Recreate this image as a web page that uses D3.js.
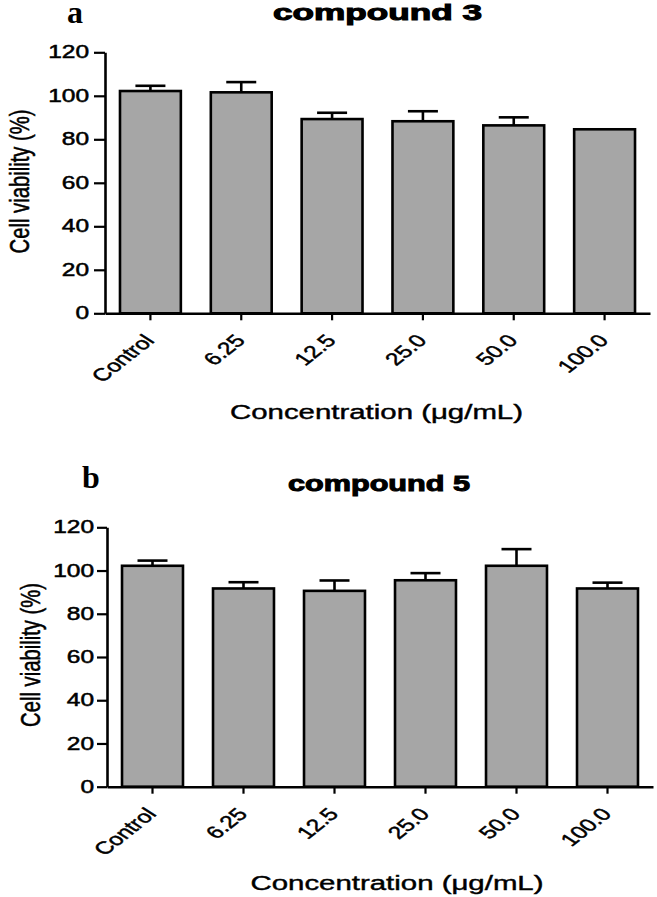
<!DOCTYPE html>
<html>
<head>
<meta charset="utf-8">
<script src="https://cdn.jsdelivr.net/npm/d3@7/dist/d3.min.js"></script>
<style>
  html, body { margin: 0; padding: 0; background: #ffffff; }
  svg { display: block; }
</style>
</head>
<body>
<svg id="chart" width="657" height="897"></svg>
<script>
// ---- data ----
const categories = ["Control", "6.25", "12.5", "25.0", "50.0", "100.0"];
const meansA = [102.2, 101.6, 89.3, 88.3, 86.4, 84.6];
const sdA    = [2.4, 4.7, 2.9, 4.6, 3.7, 0];
const meansB = [102.2, 91.7, 90.6, 95.5, 102.2, 91.7];
const sdB    = [2.4, 2.9, 4.8, 3.3, 7.7, 2.7];
const yTicks = [0, 20, 40, 60, 80, 100, 120];
const titles = ["compound 3", "compound 5"];
const panelLetters = ["a", "b"];
const yLabel = "Cell viability (%)";
const xLabel = "Concentration (\u03bcg/mL)";

// ---- layout ----
const panels = [
  { means: meansA, sd: sdA, title: titles[0], letter: panelLetters[0],
    left: 105, right: 650, top: 52.3, bottom: 313.3,
    titleX: 377.5, titleY: 20, titleLen: 209,
    letterX: 67, letterY: 23,
    yLabX: 29, yLabY: 181.5,
    xLabX: 376.5, xLabY: 419,
    yTickSize: 11, yTickPad: 5 },
  { means: meansB, sd: sdB, title: titles[1], letter: panelLetters[1],
    left: 107, right: 653, top: 527.3, bottom: 786.7,
    titleX: 379, titleY: 490.7, titleLen: 182,
    letterX: 82, letterY: 488,
    yLabX: 40, yLabY: 655,
    xLabX: 397, xLabY: 890,
    yTickSize: 10, yTickPad: 3 }
];

const SX = 1.4;            // horizontal stretch of text
const FONT = "'Liberation Sans', Arial, Helvetica, sans-serif";
const svg = d3.select("#chart");

panels.forEach(p => {
  const g = svg.append("g");
  const x = d3.scaleBand().domain(categories).range([p.left, p.right])
    .paddingInner(0.33).paddingOuter(0.165);
  const y = d3.scaleLinear().domain([0, 120]).range([p.bottom, p.top]);

  // bars
  g.selectAll("rect.bar").data(p.means).join("rect")
    .attr("class", "bar")
    .attr("x", (d, i) => x(categories[i]))
    .attr("y", d => y(d))
    .attr("width", x.bandwidth())
    .attr("height", d => y(0) - y(d))
    .attr("fill", "#a6a6a6")
    .attr("stroke", "#000")
    .attr("stroke-width", 2.6);

  // error bars
  const capW = 30;
  const err = g.selectAll("g.err").data(p.means.map((m, i) => ({ m, s: p.sd[i], c: categories[i] })))
    .join("g").attr("class", "err").filter(d => d.s > 0);
  err.append("line")
    .attr("x1", d => x(d.c) + x.bandwidth() / 2)
    .attr("x2", d => x(d.c) + x.bandwidth() / 2)
    .attr("y1", d => y(d.m))
    .attr("y2", d => y(d.m + d.s))
    .attr("stroke", "#000").attr("stroke-width", 2.6);
  err.append("line")
    .attr("x1", d => x(d.c) + x.bandwidth() / 2 - capW / 2)
    .attr("x2", d => x(d.c) + x.bandwidth() / 2 + capW / 2)
    .attr("y1", d => y(d.m + d.s))
    .attr("y2", d => y(d.m + d.s))
    .attr("stroke", "#000").attr("stroke-width", 2.6);

  // y axis
  const ya = g.append("g").attr("transform", `translate(${p.left},0)`)
    .call(d3.axisLeft(y).tickValues(yTicks).tickFormat(d3.format("d"))
      .tickSize(p.yTickSize).tickSizeOuter(0).tickPadding(p.yTickPad));
  ya.select(".domain").attr("stroke-width", 2.6).attr("stroke", "#000");
  ya.selectAll(".tick line").attr("stroke-width", 2.2).attr("stroke", "#000");
  ya.selectAll(".tick text")
    .attr("font-family", FONT).attr("font-size", 17.5).attr("fill", "#000")
    .attr("stroke", "#000").attr("stroke-width", 0.5)
    .attr("transform", function () {
      const tx = +this.getAttribute("x");
      return `translate(${tx},0) scale(${SX},1) translate(${-tx},0)`;
    });

  // x axis
  const xa = g.append("g").attr("transform", `translate(0,${p.bottom})`)
    .call(d3.axisBottom(x).tickSize(7).tickSizeOuter(0));
  xa.select(".domain").attr("stroke-width", 2.6).attr("stroke", "#000");
  xa.selectAll(".tick line").attr("stroke-width", 2.2).attr("stroke", "#000");
  xa.selectAll(".tick text")
    .attr("font-family", FONT).attr("font-size", 17.5).attr("fill", "#000")
    .attr("stroke", "#000").attr("stroke-width", 0.45)
    .attr("x", 0).attr("y", 0).attr("dy", 0)
    .attr("text-anchor", "end")
    .attr("transform", `translate(5,28) scale(${SX},1) rotate(-48)`);

  // title
  svg.append("text")
    .attr("x", p.titleX).attr("y", p.titleY)
    .attr("text-anchor", "middle")
    .attr("font-family", FONT).attr("font-weight", "bold").attr("font-size", 22)
    .attr("stroke", "#000").attr("stroke-width", 1)
    .attr("textLength", p.titleLen).attr("lengthAdjust", "spacingAndGlyphs")
    .text(p.title);

  // panel letter
  svg.append("text")
    .attr("x", p.letterX).attr("y", p.letterY)
    .attr("font-family", "'Liberation Serif', 'Times New Roman', serif")
    .attr("font-weight", "bold").attr("font-size", 32)
    .text(p.letter);

  // y label
  svg.append("text")
    .attr("transform", `translate(${p.yLabX},${p.yLabY}) scale(${SX},1) rotate(-90)`)
    .attr("text-anchor", "middle")
    .attr("font-family", FONT).attr("font-size", 20)
    .attr("stroke", "#000").attr("stroke-width", 0.4)
    .attr("textLength", 144).attr("lengthAdjust", "spacingAndGlyphs")
    .text(yLabel);

  // x label
  svg.append("text")
    .attr("transform", `translate(${p.xLabX},${p.xLabY}) scale(${SX},1)`)
    .attr("text-anchor", "middle")
    .attr("font-family", FONT).attr("font-size", 20)
    .attr("stroke", "#000").attr("stroke-width", 0.4)
    .attr("textLength", 293 / SX).attr("lengthAdjust", "spacingAndGlyphs")
    .text(xLabel);
});
</script>
</body>
</html>
